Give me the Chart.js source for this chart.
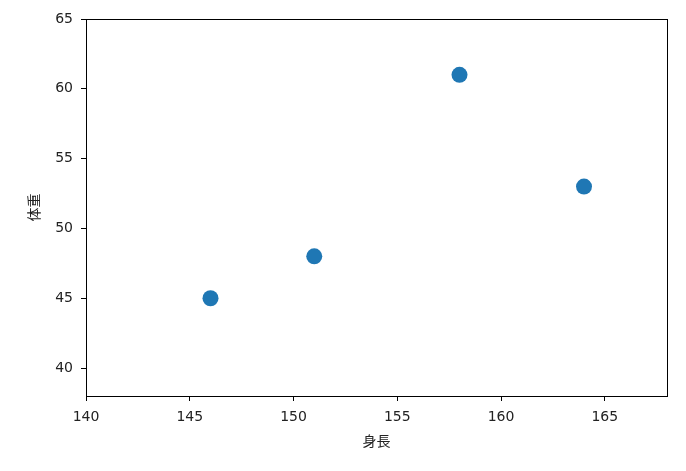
<!DOCTYPE html>
<html>
<head>
<meta charset="utf-8">
<script src="https://cdn.jsdelivr.net/npm/chart.js@4"></script>
<style>
  html, body { margin: 0; padding: 0; background: #fff; }
  #wrap { width: 686px; height: 471px; }
</style>
</head>
<body>
<div id="wrap"><canvas id="chart"></canvas></div>
<script>
// データ
const heights = [146, 151, 158, 164];
const weights = [45, 48, 61, 53];
const xTicks = [140, 145, 150, 155, 160, 165];
const yTicks = [40, 45, 50, 55, 60, 65];
const xTitle = '身長';
const yTitle = '体重';

const font = { family: "'DejaVu Sans', 'Noto Sans CJK JP', sans-serif", size: 14 };
const titleFont = { family: "'Noto Sans CJK JP', sans-serif", size: 14 };

// 枠線
const frame = {
    id: 'frame',
    afterDraw(chart) {
        const a = chart.chartArea;
        const c = chart.ctx;
        c.save();
        c.strokeStyle = '#000';
        c.lineWidth = 1;
        c.strokeRect(Math.round(a.left) + 0.5, Math.round(a.top) + 0.5,
            Math.round(a.right - a.left), Math.round(a.bottom - a.top));
        c.restore();
    }
};

const ctx = document.getElementById('chart').getContext('2d');
new Chart(ctx, {
    type: 'scatter',
    data: {
        datasets: [{
            data: heights.map((h, i) => ({ x: h, y: weights[i] })),
            backgroundColor: '#1f77b4',
            borderColor: '#1f77b4',
            borderWidth: 0,
            pointRadius: 8,
            pointHoverRadius: 8
        }]
    },
    options: {
        responsive: true,
        maintainAspectRatio: false,
        animation: false,
        layout: { padding: { top: 19, right: 19, left: 25, bottom: 22 } },
        plugins: { legend: { display: false }, tooltip: { enabled: false } },
        scales: {
            x: {
                type: 'linear',
                min: 140,
                max: 168,
                afterBuildTicks: s => { s.ticks = xTicks.map(v => ({ value: v })); },
                afterFit: s => { s.height = 53; },
                grid: { drawOnChartArea: false, drawTicks: true, tickLength: 5, color: '#000' },
                border: { color: '#000' },
                ticks: { color: '#222', font: font, padding: 8, maxRotation: 0 },
                title: { display: true, text: xTitle, color: '#222', font: titleFont, padding: 0 }
            },
            y: {
                type: 'linear',
                min: 38,
                max: 65,
                afterBuildTicks: s => { s.ticks = yTicks.map(v => ({ value: v })); },
                afterFit: s => { s.width = 61; },
                grid: { drawOnChartArea: false, drawTicks: true, tickLength: 5, color: '#000' },
                border: { color: '#000' },
                ticks: { color: '#222', font: font, padding: 8 },
                title: { display: true, text: yTitle, color: '#222', font: titleFont, padding: 0 }
            }
        }
    },
    plugins: [frame]
});
</script>
</body>
</html>
